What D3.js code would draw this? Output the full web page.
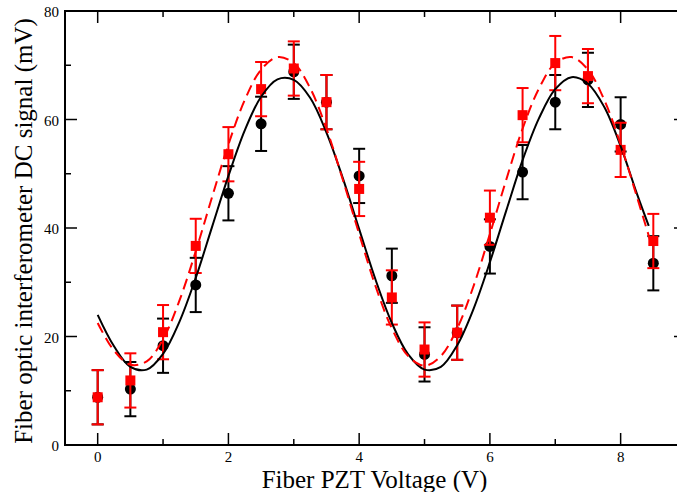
<!DOCTYPE html>
<html>
<head>
<meta charset="utf-8">
<script src="https://cdn.jsdelivr.net/npm/d3@7"></script>
<style>
  html, body { margin: 0; padding: 0; background: #fff; }
  svg { display: block; }
  text { font-family: "Liberation Serif", "Times New Roman", serif; }
</style>
</head>
<body>
<svg id="chart" width="677" height="492"></svg>
<script>
// ---- data ----
const voltages = [0, 0.5, 1, 1.5, 2, 2.5, 3, 3.5, 4, 4.5, 5, 5.5, 6, 6.5, 7, 7.5, 8, 8.5];
const blackValues = [8.8, 10.3, 18.3, 29.5, 46.4, 59.2, 68.8, 63.2, 49.6, 31.2, 16.7, 20.7, 36.6, 50.3, 63.2, 67.3, 59.1, 33.5];
const redValues   = [8.8, 11.9, 20.8, 36.7, 53.6, 65.6, 69.4, 63.2, 47.2, 27.2, 17.6, 20.7, 41.9, 60.8, 70.4, 68.0, 54.4, 37.6];
const errorBar = 5;

const fitX = [0, 0.25, 0.5, 0.75, 1, 1.25, 1.5, 1.75, 2, 2.25, 2.5, 2.75, 3, 3.25, 3.5, 3.75, 4, 4.25, 4.5, 4.75, 5, 5.25, 5.5, 5.75, 6, 6.25, 6.5, 6.75, 7, 7.25, 7.5, 7.75, 8, 8.25];
const blackFit = [24.0, 18.2, 14.4, 13.9, 16.8, 22.7, 30.8, 40.2, 49.6, 58.0, 64.2, 67.4, 67.3, 64.0, 57.6, 49.2, 39.8, 30.5, 22.5, 16.7, 13.9, 14.4, 18.4, 25.1, 33.7, 43.2, 52.5, 60.2, 65.6, 67.8, 66.6, 62.3, 55.1, 46.3];
const blackFitEnd = [8.43, 40.4];
const redFit = [22.5, 17.4, 14.8, 15.4, 19.5, 26.6, 35.7, 45.7, 55.4, 63.6, 69.2, 71.5, 70.4, 65.8, 58.3, 48.9, 38.9, 29.3, 21.5, 16.4, 14.6, 16.4, 21.5, 29.3, 38.9, 48.9, 58.3, 65.7, 70.4, 71.5, 69.2, 63.6, 55.4, 45.7];
const redFitEnd = [8.45, 37.8];

const xTicks = [0, 2, 4, 6, 8];
const xMinor = [1, 3, 5, 7, 9];
const yTicks = [0, 20, 40, 60, 80];
const yMinor = [10, 30, 50, 70];
const xLabel = "Fiber PZT Voltage (V)";
const yLabel = "Fiber optic interferometer DC signal (mV)";

// ---- layout ----
const svg = d3.select("#chart");
const L = 65, R = 686, T = 11, B = 445;
const x = d3.scaleLinear().domain([-0.5, 9]).range([L, R]);
const y = d3.scaleLinear().domain([0, 80]).range([B, T]);

const frame = svg.append("g");
// ticks (inward, all four sides)
const majLen = 12, minLen = 6;
const tk = svg.append("g").attr("stroke", "#000").attr("stroke-width", 1.5);
xTicks.forEach(v => {
  tk.append("line").attr("x1", x(v)).attr("x2", x(v)).attr("y1", B).attr("y2", B - majLen);
  tk.append("line").attr("x1", x(v)).attr("x2", x(v)).attr("y1", T).attr("y2", T + majLen);
});
xMinor.forEach(v => {
  tk.append("line").attr("x1", x(v)).attr("x2", x(v)).attr("y1", B).attr("y2", B - minLen);
  tk.append("line").attr("x1", x(v)).attr("x2", x(v)).attr("y1", T).attr("y2", T + minLen);
});
yTicks.forEach(v => {
  tk.append("line").attr("x1", L).attr("x2", L + majLen).attr("y1", y(v)).attr("y2", y(v));
  tk.append("line").attr("x1", R).attr("x2", R - majLen).attr("y1", y(v)).attr("y2", y(v));
});
yMinor.forEach(v => {
  tk.append("line").attr("x1", L).attr("x2", L + minLen).attr("y1", y(v)).attr("y2", y(v));
  tk.append("line").attr("x1", R).attr("x2", R - minLen).attr("y1", y(v)).attr("y2", y(v));
});
frame.append("rect").attr("x", L).attr("y", T).attr("width", R - L).attr("height", B - T)
  .attr("fill", "none").attr("stroke", "#000").attr("stroke-width", 2);

// tick labels
const lab = svg.append("g").attr("font-size", 15).attr("fill", "#000");
xTicks.forEach(v => {
  lab.append("text").attr("x", x(v)).attr("y", B + 17).attr("text-anchor", "middle").text(v);
});
yTicks.forEach(v => {
  lab.append("text").attr("x", L - 6).attr("y", y(v) + 6).attr("text-anchor", "end").text(v);
});

// axis titles
svg.append("text").attr("x", (L + R) / 2 - 1).attr("y", 488).attr("text-anchor", "middle")
  .attr("font-size", 25).text(xLabel);
svg.append("text").attr("transform", `translate(32,${(T + B) / 2 + 3}) rotate(-90)`)
  .attr("text-anchor", "middle").attr("font-size", 25).text(yLabel);

// ---- series ----
function errorBars(vals, color) {
  const g = svg.append("g").attr("stroke", color).attr("stroke-width", 2);
  voltages.forEach((v, i) => {
    const cx = x(v), y0 = y(vals[i] - errorBar), y1 = y(vals[i] + errorBar);
    g.append("line").attr("x1", cx).attr("x2", cx).attr("y1", y0).attr("y2", y1);
    g.append("line").attr("x1", cx - 6).attr("x2", cx + 6).attr("y1", y0).attr("y2", y0);
    g.append("line").attr("x1", cx - 6).attr("x2", cx + 6).attr("y1", y1).attr("y2", y1);
  });
}

errorBars(blackValues, "#000");
svg.append("g").selectAll("circle").data(voltages).join("circle")
  .attr("cx", d => x(d)).attr("cy", (d, i) => y(blackValues[i])).attr("r", 5.5).attr("fill", "#000");

errorBars(redValues, "#ff0000");
svg.append("g").selectAll("rect").data(voltages).join("rect")
  .attr("x", d => x(d) - 5).attr("y", (d, i) => y(redValues[i]) - 5)
  .attr("width", 10).attr("height", 10).attr("fill", "#ff0000");

const line = d3.line().x(d => x(d[0])).y(d => y(d[1])).curve(d3.curveCatmullRom);
const blackPts = fitX.map((v, i) => [v, blackFit[i]]).concat([blackFitEnd]);
const redPts = fitX.map((v, i) => [v, redFit[i]]).concat([redFitEnd]);

svg.append("path").attr("d", line(blackPts)).attr("fill", "none").attr("stroke", "#000").attr("stroke-width", 2);
svg.append("path").attr("d", line(redPts)).attr("fill", "none").attr("stroke", "#ff0000")
  .attr("stroke-width", 2).attr("stroke-dasharray", "11,6");
</script>
</body>
</html>
